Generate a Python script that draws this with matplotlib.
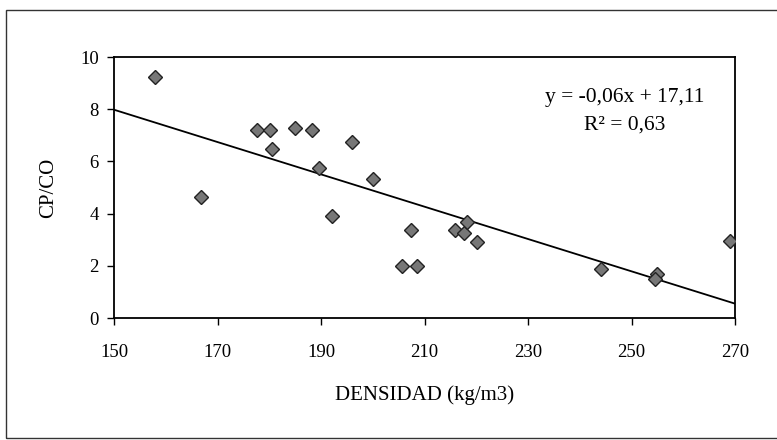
import matplotlib
matplotlib.use("Agg")
import matplotlib.pyplot as plt
from matplotlib.patches import Rectangle

plt.rcParams["font.family"] = ["Liberation Serif", "DejaVu Serif"]

# densidad (kg/m3) vs CP/CO
densidad = [158.0, 166.8, 177.6, 180.2, 180.5, 184.9, 188.3, 189.6, 192.1,
            196.0, 200.0, 205.6, 207.4, 208.5, 215.8, 217.7, 218.3, 220.2,
            244.2, 254.9, 254.6, 269.1]
cp_co = [9.25, 4.65, 7.20, 7.20, 6.48, 7.27, 7.20, 5.74, 3.92,
         6.76, 5.33, 1.98, 3.38, 1.98, 3.38, 3.27, 3.68, 2.92,
         1.88, 1.70, 1.51, 2.96]

# linea de tendencia tal como aparece dibujada
trend_x = [150, 270]
trend_y = [7.98, 0.55]

x_ticks = [150, 170, 190, 210, 230, 250, 270]
y_ticks = [0, 2, 4, 6, 8, 10]

fig = plt.figure(figsize=(7.77, 4.4), dpi=100)
fig.patch.set_facecolor("white")

# marco exterior (recortado por la derecha)
fig.patches.append(Rectangle((6 / 777, 2 / 440), 1.2, 428 / 440,
                             transform=fig.transFigure, fill=False,
                             edgecolor="#333333", linewidth=1.0))

ax = fig.add_axes([114 / 777, 1 - 318 / 440, 621 / 777, 261 / 440])
ax.plot(trend_x, trend_y, color="black", linewidth=1.3, zorder=2)
ax.plot(densidad, cp_co, linestyle="none", marker="D", markersize=7,
        markerfacecolor="#777777", markeredgecolor="#222222",
        markeredgewidth=1.0, zorder=3)

ax.set_xlim(150, 270)
ax.set_ylim(0, 10)
ax.set_xticks(x_ticks)
ax.set_yticks(y_ticks)
ax.tick_params(axis="both", direction="out", length=5, width=1,
               labelsize=13.5, colors="black")
ax.tick_params(axis="x", pad=14)
ax.tick_params(axis="y", pad=6)
for s in ax.spines.values():
    s.set_linewidth(1.3)
    s.set_color("black")

ax.set_xlabel("DENSIDAD (kg/m3)", fontsize=15, labelpad=17)
ax.set_ylabel("CP/CO", fontsize=15, labelpad=16)

ax.text(0.822, 0.845, "y = -0,06x + 17,11", transform=ax.transAxes,
        ha="center", va="center", fontsize=15.5)
ax.text(0.822, 0.74, "R² = 0,63", transform=ax.transAxes,
        ha="center", va="center", fontsize=15.5)

fig.savefig("out.png", dpi=100, facecolor="white")
